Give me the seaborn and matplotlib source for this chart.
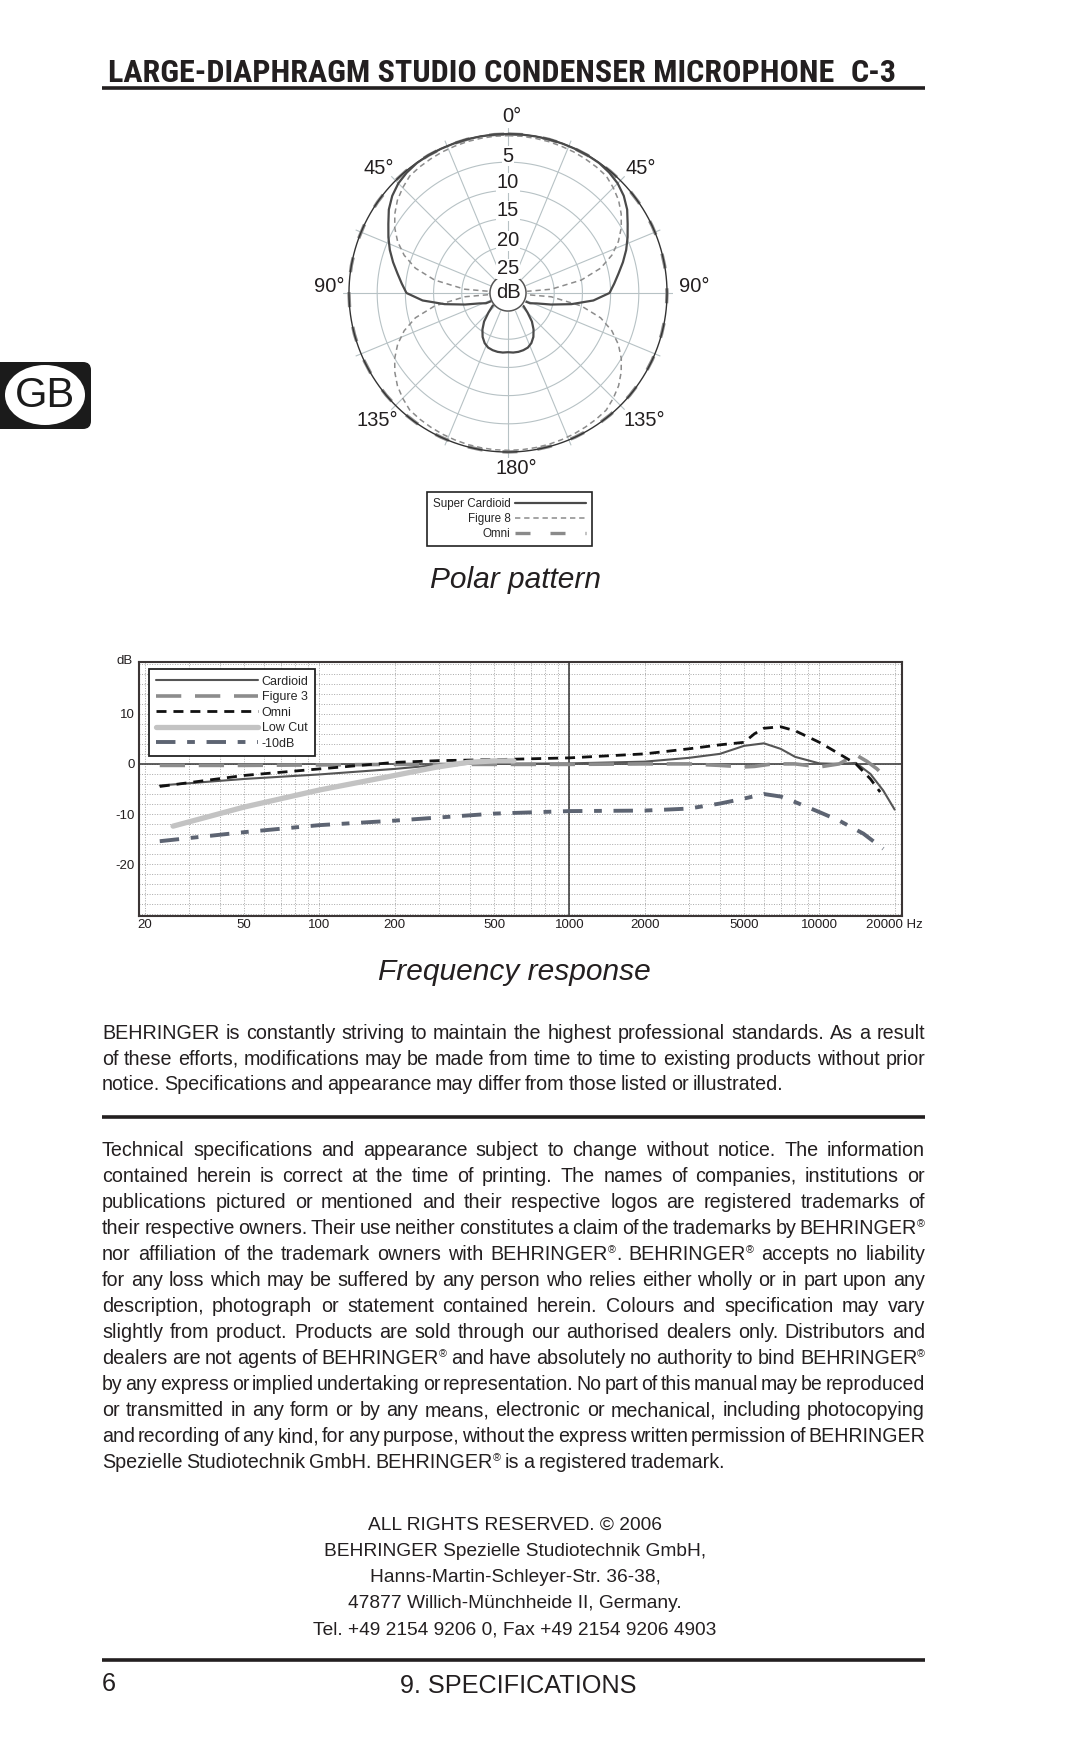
import numpy as np
import matplotlib
matplotlib.use('Agg')
import matplotlib.pyplot as plt
import seaborn as sns
from matplotlib.patches import FancyBboxPatch, Ellipse
from matplotlib.ticker import LogLocator, NullFormatter

# ---------------- data ----------------
# polar pattern: attenuation in dB for 0..180 deg (mirrored for the other side)
polar_angles = [0, 5, 10, 15, 20, 25, 30, 35, 40, 45, 50, 55, 60, 65, 70, 75, 80, 85, 90,
                95, 100, 105, 110, 115, 120, 125, 130, 135, 140, 145, 150, 155, 160, 165, 170, 175, 180]
super_cardioid_db = [0, 0, 0, 0, 0, 0, 0, 0.05, 0.3, 0.7, 1.4, 2.4, 3.7, 4.8, 5.9, 7.1, 8.3, 9.3, 10.2,
                     13.0, 16.8, 20.3, 22.8, 23.9, 26.5, 26.8, 24.6, 23.3, 21.6, 20.3, 19.2, 18.4, 17.9,
                     17.7, 17.6, 17.6, 17.7]
figure8_db = [0.3, 0.3, 0.35, 0.4, 0.5, 0.6, 0.75, 0.9, 1.1, 1.8, 2.6, 3.7, 5.0, 6.6, 8.6, 11.2, 15.0, 20.5, 28.2,
              20.5, 15.0, 11.2, 8.6, 6.6, 5.0, 3.7, 2.6, 1.8, 1.1, 0.9, 0.75, 0.6, 0.5, 0.4, 0.35, 0.3, 0.3]
omni_db = [0, 0, 0, 0, 0, 0, 0, 0, 0, 0, 0, 0, 0, 0, 0, 0, 0, 0, 0,
           0, 0, 0, 0, 0, 0, 0, 0, 0, 0, 0, 0, 0, 0, 0, 0, 0, 0]
ring_db = [0, 5, 10, 15, 20, 25]
ring_labels = ['5', '10', '15', '20', '25', 'dB']
angle_labels = ['0°', '45°', '45°', '90°', '90°', '135°', '135°', '180°']
polar_legend = ['Super Cardioid', 'Figure 8', 'Omni']

# frequency response
cardioid_hz = [23, 50, 100, 200, 300, 400, 1000, 2000, 3000, 4000, 5000, 6000, 7000, 8000,
               10000, 12000, 14000, 16000, 18000, 20000]
cardioid_db = [-4.3, -3.0, -2.1, -1.0, -0.2, 0.0, 0.1, 0.45, 1.2, 2.0, 3.6, 4.1, 3.0, 1.4,
               0.1, 0.0, 0.2, -2.0, -5.3, -9.1]
figure3_hz = [23, 50, 100, 200, 500, 1000, 2000, 3000, 4000, 5000, 5500, 6500, 8000, 10000,
              12000, 13000, 14000, 15500, 17000, 18500]
figure3_db = [-0.3, -0.3, -0.2, -0.1, -0.1, -0.1, 0.0, 0.0, -0.3, -0.6, -0.5, 0.0, 0.0, -0.6,
              0.0, 1.0, 1.8, 0.5, -1.0, -2.8]
omni_hz = [23, 50, 100, 200, 300, 500, 1000, 2000, 3000, 4000, 5000, 5500, 6000, 7000, 8000,
           10000, 12000, 14000, 16000, 17500]
omni_fr_db = [-4.5, -2.3, -1.0, 0.3, 0.65, 0.85, 1.2, 2.0, 3.0, 3.8, 4.3, 6.0, 7.1, 7.4, 6.6,
              4.3, 2.0, 0.0, -3.0, -5.6]
low_cut_hz = [26, 50, 100, 200, 290, 390, 500, 600]
low_cut_db = [-12.4, -8.6, -5.2, -2.3, -0.7, 0.3, 0.6, 0.6]
pad_hz = [23, 50, 100, 200, 500, 1000, 2000, 3000, 4000, 5000, 6000, 7000, 8000, 10000,
          12000, 15000, 18000]
pad_db = [-15.4, -13.6, -12.2, -11.3, -9.9, -9.4, -9.3, -8.9, -7.9, -6.9, -6.0, -6.5, -7.6,
          -9.6, -11.3, -13.9, -16.9]
freq_legend = ['Cardioid', 'Figure 3', 'Omni', 'Low Cut', '-10dB']
freq_ticks = [20, 50, 100, 200, 500, 1000, 2000, 5000, 10000, 20000]
freq_tick_labels = ['20', '50', '100', '200', '500', '1000', '2000', '5000', '10000', '20000 Hz']
db_ticks = [-20, -10, 0, 10]

# page text
title = 'LARGE-DIAPHRAGM STUDIO CONDENSER MICROPHONE'
model = 'C-3'
para1 = ['BEHRINGER is constantly striving to maintain the highest professional standards. As a result',
         'of these efforts, modifications may be made from time to time to existing products without prior',
         'notice. Specifications and appearance may differ from those listed or illustrated.']
para2 = ['Technical specifications and appearance subject to change without notice. The information',
         'contained herein is correct at the time of printing. The names of companies, institutions or',
         'publications pictured or mentioned and their respective logos are registered trademarks of',
         'their respective owners. Their use neither constitutes a claim of the trademarks by BEHRINGER®',
         'nor affiliation of the trademark owners with BEHRINGER®. BEHRINGER® accepts no liability',
         'for any loss which may be suffered by any person who relies either wholly or in part upon any',
         'description, photograph or statement contained herein. Colours and specification may vary',
         'slightly from product. Products are sold through our authorised dealers only. Distributors and',
         'dealers are not agents of BEHRINGER® and have absolutely no authority to bind BEHRINGER®',
         'by any express or implied undertaking or representation. No part of this manual may be reproduced',
         'or transmitted in any form or by any means, electronic or mechanical, including photocopying',
         'and recording of any kind, for any purpose, without the express written permission of BEHRINGER',
         'Spezielle Studiotechnik GmbH. BEHRINGER® is a registered trademark.']
address = ['ALL RIGHTS RESERVED. © 2006',
           'BEHRINGER Spezielle Studiotechnik GmbH,',
           'Hanns-Martin-Schleyer-Str. 36-38,',
           '47877 Willich-Münchheide II, Germany.',
           'Tel. +49 2154 9206 0, Fax +49 2154 9206 4903']

# ---------------- setup ----------------
sns.set_theme(style='white')
plt.rcParams['font.family'] = ['Liberation Sans', 'DejaVu Sans']
plt.rcParams['axes.unicode_minus'] = False
W, H = 1080, 1748
INK = '#231f20'
GRID = '#b7c2c5'
BODY = ['Liberation Sans', 'DejaVu Sans']
HEAD = ['Roboto Condensed', 'DejaVu Sans']

fig = plt.figure(figsize=(W / 100, H / 100), dpi=100)
fig.patch.set_facecolor('white')
page = fig.add_axes([0, 0, 1, 1])
page.set_xlim(0, W)
page.set_ylim(H, 0)
page.axis('off')
renderer = fig.canvas.get_renderer()


def pt2px(size):
    return size * 100 / 72


def text_width(s, size, **kw):
    t = page.text(0, 0, s, fontsize=size, **kw)
    w = t.get_window_extent(renderer=renderer).width
    t.remove()
    return w


def segments(word):
    out, buf = [], ''
    for ch in word:
        if ch == '®':
            if buf:
                out.append((buf, False))
                buf = ''
            out.append(('®', True))
        else:
            buf += ch
    if buf:
        out.append((buf, False))
    return out


def word_width(segs, size):
    return sum(text_width(s, size * (0.55 if sup else 1), family=BODY) for s, sup in segs)


def draw_word(x, y, segs, size):
    for s, sup in segs:
        sz = size * 0.55 if sup else size
        dy = -0.38 * pt2px(size) if sup else 0
        page.text(x, y + dy, s, fontsize=sz, family=BODY, color=INK, ha='left', va='baseline')
        x += text_width(s, sz, family=BODY)


def draw_line(y, line, size, x0=102, x1=925, justify=True):
    words = [segments(w) for w in line.split()]
    widths = [word_width(w, size) for w in words]
    em = pt2px(size)
    if justify:
        gap = (x1 - x0 - sum(widths)) / (len(words) - 1)
        if gap < 0.14 * em:
            size = size * (x1 - x0 - (len(words) - 1) * 0.14 * em) / sum(widths)
            widths = [word_width(w, size) for w in words]
            gap = (x1 - x0 - sum(widths)) / (len(words) - 1)
    else:
        gap = 0.2 * em
    x = x0
    for w, ww in zip(words, widths):
        draw_word(x, y, w, size)
        x += ww + gap


def fit_size(s, width, size, **kw):
    return size * width / text_width(s, size, **kw)


# ---------------- header / footer ----------------
tsize = fit_size(title, 726, 20, family=HEAD, weight='bold')
page.text(108, 70 + 0.36 * pt2px(tsize), title, fontsize=tsize, family=HEAD, weight='bold',
          color=INK, va='baseline')
page.text(897, 70 + 0.36 * pt2px(tsize), model, fontsize=tsize, family=HEAD, weight='bold',
          color=INK, va='baseline', ha='right')
for yy in [88, 1117, 1660]:
    page.plot([102, 925], [yy, yy], color=INK, lw=2.6, solid_capstyle='butt')

# GB tab
page.add_patch(FancyBboxPatch((-20, 362), 111, 67, boxstyle='round,pad=0,rounding_size=8',
                              fc='#1b1b1b', ec='none'))
page.add_patch(Ellipse((45, 395), 80, 60, fc='white', ec='none'))
page.text(45, 396, 'GB', fontsize=30, family='Liberation Sans', color='#1b1b1b', ha='center', va='center')

# ---------------- polar pattern ----------------
R_EDGE = 165
pol = fig.add_axes([(508 - R_EDGE) / W, 1 - (293 + R_EDGE) / H, 2 * R_EDGE / W, 2 * R_EDGE / H],
                   projection='polar')
pol.set_facecolor('none')
pol.set_theta_zero_location('N')
pol.set_theta_direction(-1)
pol.set_rlim(28.2, -1.06)
pol.spines['polar'].set_visible(False)
pol.set_yticks([])
pol.set_xticks(np.deg2rad(np.arange(0, 360, 22.5)))
pol.set_xticklabels([])
pol.xaxis.grid(True, color=GRID, lw=0.8)
pol.tick_params(length=0)

theta_full = np.linspace(0, 2 * np.pi, 361)
for lvl in ring_db[1:-1]:
    pol.plot(theta_full, np.full_like(theta_full, lvl), color=GRID, lw=0.8, zorder=1)


def mirrored(vals):
    ang = polar_angles + [360 - a for a in reversed(polar_angles[:-1])]
    r = vals + list(reversed(vals[:-1]))
    return np.deg2rad(ang), r


th, rr = mirrored(omni_db)
sns.lineplot(x=th, y=rr, ax=pol, sort=False, estimator=None, color='#8a8a8a', linewidth=2.4,
             linestyle=(0, (4.5, 6)), zorder=2)
l_om = pol.lines[-1]
pol.plot(theta_full, np.full_like(theta_full, ring_db[0]), color='#333333', lw=1.0, zorder=2.5)
th, rr = mirrored(figure8_db)
sns.lineplot(x=th, y=rr, ax=pol, sort=False, estimator=None, color='#8c8c8c', linewidth=1.1,
             linestyle=(0, (3.5, 2.5)), zorder=3)
l_f8 = pol.lines[-1]
th, rr = mirrored(super_cardioid_db)
sns.lineplot(x=th, y=rr, ax=pol, sort=False, estimator=None, color='#4a4a4a', linewidth=1.6, zorder=3.5)
l_sc = pol.lines[-1]
pol.fill_between(theta_full, ring_db[-1], 28.2, color='white', zorder=4)
pol.plot(theta_full, np.full_like(theta_full, ring_db[-1]), color='#555555', lw=1.1, zorder=4.5)
pol.set_xlabel('')
pol.set_ylabel('')
pol.set_rlim(28.2, -1.06)

for lab, yy in zip(ring_labels, [156, 183, 211, 241, 269, 292]):
    pol.text(508, yy, lab, transform=page.transData, fontsize=14.5, color=INK, ha='center', va='center',
             zorder=6, bbox=dict(fc='white', ec='none', pad=0.3))
for lab, (xx, yy) in zip(angle_labels, [(512, 116), (379, 168), (641, 168), (329, 286), (694, 286),
                                         (377, 421), (644, 421), (516, 469)]):
    page.text(xx, yy, lab, fontsize=14.5, color=INK, ha='center', va='center')

leg = pol.legend([l_sc, l_f8, l_om], polar_legend, loc='upper left', bbox_to_anchor=(427 / W, 1 - 492 / H),
                 bbox_transform=fig.transFigure, markerfirst=False, fontsize=8.4, handlelength=6.1,
                 handletextpad=0.4, labelspacing=0.25, borderpad=0.5, borderaxespad=0, frameon=True,
                 fancybox=False, framealpha=1, edgecolor='#222222')
leg.get_frame().set_linewidth(1.2)
leg.set_zorder(10)

ps = fit_size('Polar pattern', 171, 18, style='italic')
page.text(515, 580, 'Polar pattern', fontsize=ps, style='italic', color=INK, ha='center', va='center')

# ---------------- frequency response ----------------
fr = fig.add_axes([139 / W, 1 - 916 / H, 763 / W, 254 / H])
fr.set_facecolor('none')
fr.set_xscale('log')
curves = [(cardioid_hz, cardioid_db, '#555555', 1.5, '-'),
          (figure3_hz, figure3_db, '#8c8c8c', 2.6, (0, (7, 3.8))),
          (omni_hz, omni_fr_db, '#111111', 2.0, (0, (3.6, 2.5))),
          (low_cut_hz, low_cut_db, '#c3c3c3', 3.8, '-'),
          (pad_hz, pad_db, '#5d6472', 2.8, (0, (5, 3, 2, 3)))]
handles = []
for hz, db, col, lw, ls in curves:
    sns.lineplot(x=hz, y=db, ax=fr, estimator=None, color=col, linewidth=lw, linestyle=ls, zorder=3)
    handles.append(fr.lines[-1])
fr.set_xlabel('')
fr.set_ylabel('')
fr.set_xlim(19, 21400)
fr.set_ylim(-30.3, 20.3)
fr.set_xticks(freq_ticks)
fr.set_xticklabels(freq_tick_labels)
fr.xaxis.set_minor_locator(LogLocator(base=10, subs=np.arange(1, 10), numticks=30))
fr.xaxis.set_minor_formatter(NullFormatter())
fr.set_yticks(db_ticks)
fr.set_yticks(np.arange(-30, 21, 2), minor=True)
fr.xaxis.remove_overlapping_locs = False
fr.yaxis.remove_overlapping_locs = False
fr.grid(which='minor', axis='both', color='#a8a8a8', lw=0.7, ls=(0, (1, 1.6)), zorder=1)
fr.axhline(0, color='#333333', lw=1.1, zorder=2)
fr.axvline(1000, color='#333333', lw=1.1, zorder=2)
fr.tick_params(which='both', length=0, labelsize=9.5, colors=INK)
fr.tick_params(axis='x', pad=2)
fr.tick_params(axis='y', pad=3)
for sp in fr.spines.values():
    sp.set_visible(True)
    sp.set_color('#3b3535')
    sp.set_linewidth(1.5)
page.text(125, 661, 'dB', fontsize=9.5, color=INK, ha='center', va='center')

fleg = fr.legend(handles, freq_legend, loc='upper left', bbox_to_anchor=(0.0135, 0.971), fontsize=9,
                 handlelength=8.2, handletextpad=0.3, labelspacing=0.28, borderpad=0.5, borderaxespad=0,
                 frameon=True, fancybox=False, framealpha=1, edgecolor='#222222')
fleg.get_frame().set_linewidth(1.3)

fs = fit_size('Frequency response', 272, 18, style='italic')
page.text(514, 972, 'Frequency response', fontsize=fs, style='italic', color=INK, ha='center', va='center')

# ---------------- body text ----------------
BS = 14.2
base = 0.36 * pt2px(BS)
for i, line in enumerate(para1):
    draw_line(1032 + 25.7 * i + base, line, BS, justify=i < len(para1) - 1)
for i, line in enumerate(para2):
    draw_line(1149.2 + 26.0 * i + base, line, BS, justify=i < len(para2) - 1)
for i, line in enumerate(address):
    page.text(515, 1522.6 + 26.2 * i + base, line, fontsize=BS - 0.4, family=BODY, color=INK,
              ha='center', va='baseline')

fsz = fit_size('9. SPECIFICATIONS', 237, 15, family=BODY)
page.text(102, 1682 + 0.36 * pt2px(fsz), '6', fontsize=fsz, family=BODY, color=INK, va='baseline')
page.text(518, 1684 + 0.36 * pt2px(fsz), '9. SPECIFICATIONS', fontsize=fsz, family=BODY, color=INK,
          ha='center', va='baseline')

fig.savefig('out.png', dpi=100, facecolor='white')
